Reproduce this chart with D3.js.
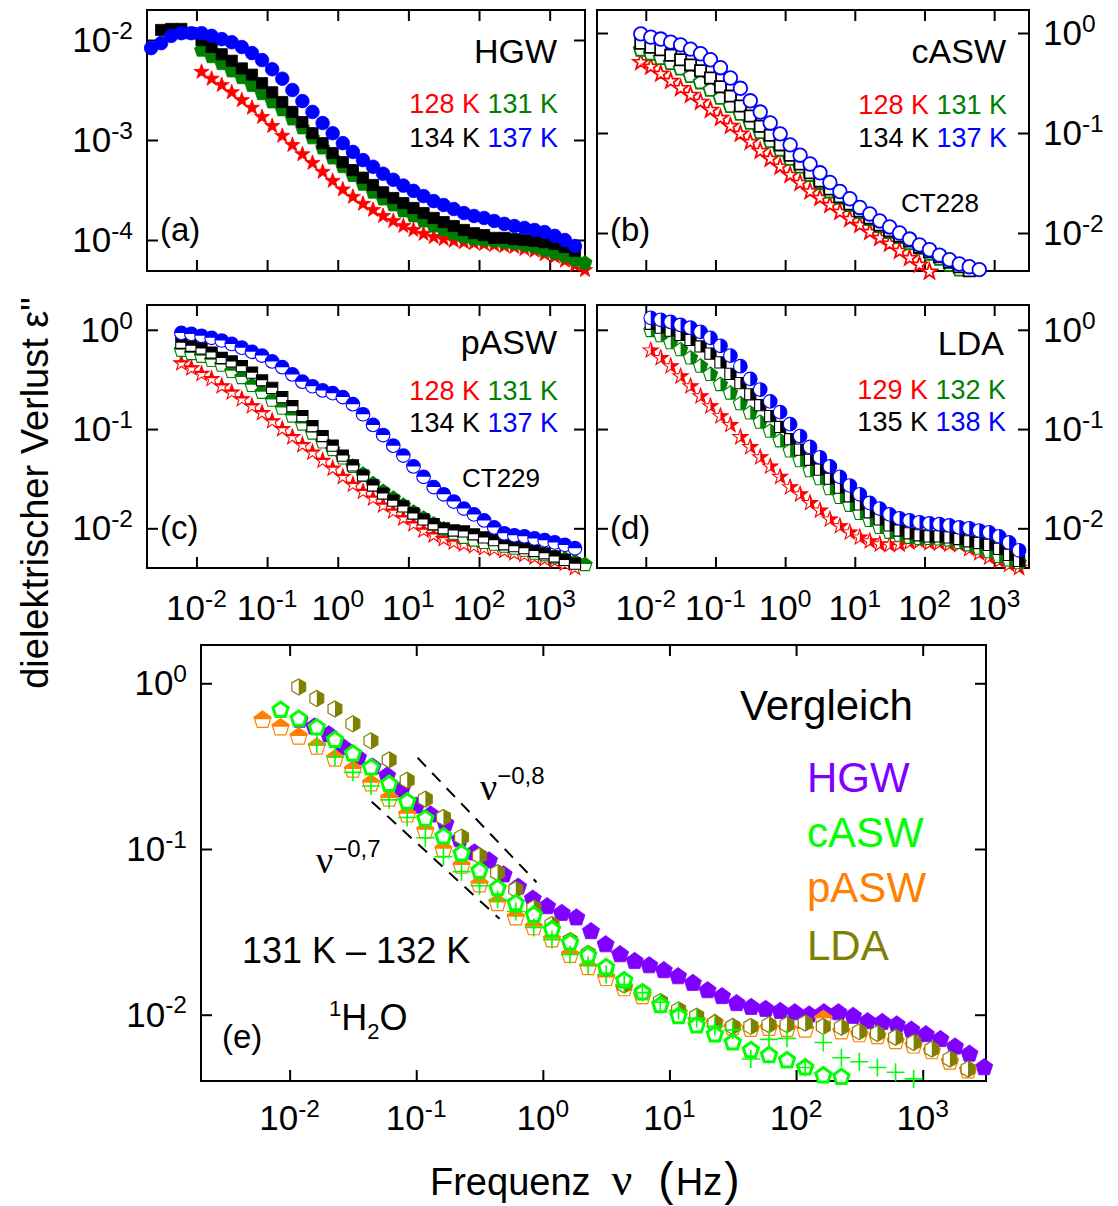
<!DOCTYPE html>
<html>
<head>
<meta charset="utf-8">
<script src="https://cdn.jsdelivr.net/npm/d3@7"></script>
<style>
  body { margin: 0; background: #fff; }
  svg { display: block; font-family: "Liberation Sans", Arial, sans-serif; }
</style>
</head>
<body>
<svg id="chart" width="1118" height="1206"></svg>
<script>
// measurement frequencies (Hz), 7 per decade
const freq = [0.00228, 0.00316, 0.00439, 0.00611, 0.00848, 0.0118, 0.0164, 0.0228, 0.0316, 0.0439,
  0.0611, 0.0848, 0.118, 0.164, 0.228, 0.316, 0.439, 0.611, 0.848, 1.18,
  1.64, 2.28, 3.16, 4.39, 6.11, 8.48, 11.8, 16.4, 22.8, 31.6,
  43.9, 61.1, 84.8, 118, 164, 228, 316, 439, 611, 848,
  1180, 1640, 2280, 3160];

// (a) HGW
const a128 = [null, null, null, null, null, 4.8e-3, 4.1e-3, 3.55e-3, 3.0e-3, 2.5e-3, 2.1e-3, 1.70e-3, 1.38e-3, 1.10e-3, 8.9e-4, 7.2e-4, 5.9e-4, 4.8e-4, 3.9e-4, 3.2e-4, 2.7e-4, 2.3e-4, 2.0e-4, 1.74e-4, 1.55e-4, 1.38e-4, 1.26e-4, 1.15e-4, 1.07e-4, 1.02e-4, 9.8e-5, 9.5e-5, 9.3e-5, 9.1e-5, 8.9e-5, 8.7e-5, 8.5e-5, 8.1e-5, 7.8e-5, 7.2e-5, 6.8e-5, 6.2e-5, 5.6e-5, 5.0e-5];
const a131 = [null, null, null, null, null, 7.9e-3, 6.8e-3, 5.8e-3, 4.9e-3, 4.2e-3, 3.5e-3, 2.9e-3, 2.4e-3, 2.0e-3, 1.62e-3, 1.32e-3, 1.05e-3, 8.3e-4, 6.6e-4, 5.4e-4, 4.4e-4, 3.6e-4, 3.0e-4, 2.57e-4, 2.24e-4, 1.95e-4, 1.74e-4, 1.55e-4, 1.38e-4, 1.26e-4, 1.15e-4, 1.07e-4, 1.02e-4, 1.0e-4, 9.8e-5, 9.5e-5, 9.3e-5, 8.9e-5, 8.5e-5, 7.9e-5, 7.4e-5, 6.9e-5, 6.3e-5, 5.9e-5];
const a134 = [null, 1.26e-2, 1.29e-2, 1.29e-2, 1.17e-2, 1.0e-2, 8.5e-3, 7.2e-3, 6.2e-3, 5.2e-3, 4.5e-3, 3.7e-3, 3.0e-3, 2.4e-3, 1.91e-3, 1.51e-3, 1.17e-3, 9.3e-4, 7.4e-4, 6.0e-4, 5.0e-4, 4.2e-4, 3.55e-4, 3.0e-4, 2.63e-4, 2.34e-4, 2.09e-4, 1.86e-4, 1.66e-4, 1.51e-4, 1.38e-4, 1.26e-4, 1.17e-4, 1.12e-4, 1.05e-4, 1.05e-4, 1.02e-4, 1.0e-4, 9.8e-5, 9.5e-5, 9.1e-5, 8.5e-5, 7.8e-5];
const a137 = [8.3e-3, 9.3e-3, 1.10e-2, 1.17e-2, 1.17e-2, 1.17e-2, 1.10e-2, 1.02e-2, 9.5e-3, 8.5e-3, 7.4e-3, 6.3e-3, 5.1e-3, 4.1e-3, 3.16e-3, 2.45e-3, 1.91e-3, 1.48e-3, 1.17e-3, 9.3e-4, 7.6e-4, 6.3e-4, 5.4e-4, 4.6e-4, 4.0e-4, 3.5e-4, 3.1e-4, 2.75e-4, 2.45e-4, 2.24e-4, 2.04e-4, 1.86e-4, 1.74e-4, 1.66e-4, 1.55e-4, 1.45e-4, 1.38e-4, 1.32e-4, 1.26e-4, 1.20e-4, 1.10e-4, 1.00e-4, 8.7e-5];

// (b) cASW, CT228
const b128 = [null, null, null, null, 0.51, 0.46, 0.39, 0.33, 0.28, 0.24, 0.204, 0.17, 0.141, 0.117, 0.098, 0.081, 0.066, 0.055, 0.046, 0.038, 0.0316, 0.026, 0.0224, 0.019, 0.0162, 0.0138, 0.012, 0.0102, 0.0089, 0.0078, 0.0066, 0.0056, 0.0048, 0.0041];
const b131 = [null, null, null, null, 0.68, 0.62, 0.56, 0.50, 0.44, 0.37, 0.32, 0.27, 0.224, 0.186, 0.155, 0.126, 0.102, 0.083, 0.068, 0.055, 0.046, 0.038, 0.0316, 0.026, 0.0224, 0.019, 0.0162, 0.0138, 0.0117, 0.0102, 0.0091, 0.0079, 0.0071, 0.0062, 0.0055, 0.0048, 0.0043];
const b134 = [null, null, null, null, 0.79, 0.72, 0.68, 0.60, 0.54, 0.48, 0.42, 0.355, 0.29, 0.234, 0.186, 0.148, 0.117, 0.095, 0.076, 0.060, 0.049, 0.040, 0.033, 0.0275, 0.023, 0.0195, 0.0166, 0.0141, 0.0120, 0.0105, 0.0093, 0.0083, 0.0072, 0.0065, 0.0058, 0.0051, 0.0046, 0.0042];
const b137 = [null, null, null, null, 0.98, 0.91, 0.87, 0.81, 0.76, 0.69, 0.62, 0.54, 0.45, 0.355, 0.28, 0.21, 0.162, 0.126, 0.098, 0.076, 0.060, 0.049, 0.040, 0.032, 0.026, 0.022, 0.018, 0.0155, 0.0132, 0.0115, 0.0100, 0.0087, 0.0076, 0.0068, 0.0060, 0.0054, 0.0049, 0.0046, 0.0043];

// (c) pASW, CT229
const c128 = [null, null, null, 0.46, 0.41, 0.36, 0.32, 0.27, 0.234, 0.20, 0.17, 0.145, 0.12, 0.100, 0.083, 0.069, 0.058, 0.048, 0.040, 0.033, 0.0275, 0.0234, 0.020, 0.017, 0.0148, 0.0126, 0.011, 0.0095, 0.0085, 0.0078, 0.0072, 0.0069, 0.0066, 0.0063, 0.0062, 0.0059, 0.0056, 0.0054, 0.0051, 0.0049, 0.0047, 0.0044, 0.0040];
const c131 = [null, null, null, 0.62, 0.575, 0.54, 0.49, 0.44, 0.38, 0.33, 0.275, 0.234, 0.195, 0.162, 0.135, 0.112, 0.091, 0.074, 0.062, 0.051, 0.042, 0.035, 0.028, 0.0234, 0.020, 0.017, 0.0145, 0.0126, 0.011, 0.0098, 0.0089, 0.0081, 0.0076, 0.0072, 0.0069, 0.0066, 0.0063, 0.006, 0.0056, 0.0054, 0.0051, 0.0049, 0.0046, 0.0043];
const c134 = [null, null, null, 0.74, 0.69, 0.65, 0.59, 0.52, 0.48, 0.43, 0.37, 0.31, 0.26, 0.21, 0.17, 0.135, 0.107, 0.085, 0.068, 0.054, 0.043, 0.034, 0.027, 0.0224, 0.019, 0.0166, 0.0141, 0.0123, 0.011, 0.0100, 0.0095, 0.0093, 0.0087, 0.0081, 0.0076, 0.0069, 0.0066, 0.0063, 0.0059, 0.0056, 0.0052, 0.0048, 0.0044];
const c137 = [null, null, null, 0.93, 0.91, 0.87, 0.83, 0.78, 0.72, 0.66, 0.60, 0.55, 0.48, 0.42, 0.355, 0.30, 0.27, 0.245, 0.23, 0.21, 0.178, 0.141, 0.110, 0.087, 0.068, 0.054, 0.042, 0.033, 0.026, 0.022, 0.0186, 0.0158, 0.0138, 0.012, 0.0102, 0.0089, 0.0085, 0.0083, 0.0079, 0.0076, 0.0072, 0.0068, 0.0063];

// (d) LDA
const d129 = [null, null, null, null, null, 0.62, 0.52, 0.43, 0.34, 0.27, 0.214, 0.17, 0.135, 0.11, 0.083, 0.066, 0.052, 0.042, 0.033, 0.026, 0.022, 0.018, 0.0151, 0.0123, 0.0105, 0.0091, 0.0081, 0.0074, 0.0069, 0.0068, 0.0069, 0.0072, 0.0074, 0.0071, 0.0071, 0.0069, 0.0068, 0.0062, 0.0056, 0.0051, 0.0047, 0.0043, 0.0040];
const d132 = [null, null, null, null, null, 0.98, 0.87, 0.74, 0.63, 0.52, 0.43, 0.355, 0.28, 0.23, 0.18, 0.145, 0.117, 0.095, 0.076, 0.060, 0.048, 0.038, 0.0316, 0.025, 0.0204, 0.017, 0.0141, 0.012, 0.0102, 0.0091, 0.0085, 0.0081, 0.0079, 0.0079, 0.0078, 0.0076, 0.0072, 0.0068, 0.0063, 0.0058, 0.0052, 0.0048, 0.0045];
const d135 = [null, null, null, null, null, 1.15, 1.05, 0.98, 0.89, 0.79, 0.68, 0.575, 0.47, 0.36, 0.29, 0.224, 0.174, 0.135, 0.105, 0.079, 0.062, 0.049, 0.039, 0.0316, 0.0257, 0.021, 0.0174, 0.0145, 0.0123, 0.0107, 0.0095, 0.0089, 0.0085, 0.0083, 0.0083, 0.0081, 0.0078, 0.0074, 0.0071, 0.0068, 0.0062, 0.0054, 0.0047];
const d138 = [null, null, null, null, null, 1.32, 1.26, 1.20, 1.12, 1.05, 0.955, 0.83, 0.69, 0.55, 0.43, 0.32, 0.25, 0.19, 0.148, 0.112, 0.085, 0.066, 0.052, 0.042, 0.033, 0.027, 0.022, 0.018, 0.0158, 0.0138, 0.0126, 0.012, 0.0115, 0.0112, 0.011, 0.0107, 0.0102, 0.0100, 0.0095, 0.0091, 0.0083, 0.0072, 0.006];

// (e) comparison at 131 K - 132 K
const eHgwFreq = [0.0120, 0.0157, 0.0204, 0.0266, 0.0347, 0.0452, 0.0589, 0.0767, 0.100, 0.130,
  0.170, 0.221, 0.288, 0.376, 0.490, 0.638, 0.832, 1.08, 1.41, 1.84,
  2.40, 3.13, 4.07, 5.31, 6.92, 9.02, 11.7, 15.3, 20.0, 26.0,
  33.9, 44.2, 57.5, 75.0, 97.7, 127, 166, 216, 282, 367,
  479, 624, 813, 1060, 1380, 1800, 2340, 3060];
const eHGW = [0.60, 0.546, 0.49, 0.41, 0.355, 0.313, 0.277, 0.228, 0.182, 0.161,
  0.142, 0.114, 0.095, 0.085, 0.070, 0.059, 0.050, 0.045, 0.041, 0.0385,
  0.0318, 0.0265, 0.0231, 0.021, 0.0198, 0.0185, 0.017, 0.0155, 0.014, 0.0129,
  0.0117, 0.0111, 0.0108, 0.0105, 0.0103, 0.0100, 0.0103, 0.0103, 0.0098, 0.0091,
  0.009, 0.0087, 0.0081, 0.0076, 0.0071, 0.0064, 0.0058, 0.0048];
const eCASW = [null, null, null, null, 0.69, 0.61, 0.54, 0.455, 0.376, 0.31, 0.247, 0.193, 0.152, 0.119, 0.094, 0.074, 0.058, 0.047, 0.040, 0.0327, 0.0273, 0.0228, 0.0193, 0.0161, 0.0136, 0.0114, 0.0098, 0.0086, 0.0076, 0.0068, 0.0061, 0.0057, 0.0053, 0.0048, 0.0043, 0.0042];
const eCASW2 = [null, null, null, null, null, null, 0.43, 0.36, 0.29, 0.24, 0.198, 0.155, 0.117, 0.090, 0.073, 0.060, 0.0495, 0.042, 0.0336, 0.0284, 0.0231, 0.0198, 0.0175, 0.0152, 0.0136, 0.0119, 0.0106, 0.0095, 0.0085, 0.0081, 0.0054, 0.0071, 0.0072, 0.0048, 0.0068, 0.0055, 0.0052, 0.0048, 0.0045, 0.0041];
const ePASW = [null, null, null, 0.60, 0.54, 0.475, 0.413, 0.35, 0.30, 0.248, 0.201, 0.161, 0.129, 0.099, 0.079, 0.061, 0.047, 0.0385, 0.0336, 0.0284, 0.0229, 0.0193, 0.0166, 0.0144, 0.0129, 0.0115, 0.0102, 0.0092, 0.0089, 0.0084, 0.0082, 0.0083, 0.0082, 0.0081, 0.0094, 0.0079, 0.0076, 0.0074, 0.0069, 0.0065, 0.006, 0.0052, 0.0046];
const eLDA = [null, null, null, null, null, 0.95, 0.81, 0.70, 0.57, 0.45, 0.345, 0.26, 0.20, 0.155, 0.118, 0.091, 0.072, 0.057, 0.044, 0.035, 0.028, 0.0234, 0.019, 0.0151, 0.0137, 0.012, 0.0107, 0.0098, 0.0089, 0.0085, 0.0085, 0.0087, 0.0087, 0.0089, 0.0085, 0.0084, 0.0079, 0.0077, 0.0073, 0.0068, 0.0062, 0.0054, 0.0047];

// power law guides nu^-0.8 and nu^-0.7 (start, end)
const guide08 = [[0.1026, 0.355], [0.891, 0.063]];
const guide07 = [[0.0445, 0.193], [0.455, 0.0379]];

const xTicks = [1e-2, 1e-1, 1, 10, 100, 1000];
const xDomain = [10 ** -2.7, 10 ** 3.5];

const RED = "#ff0000", GREEN = "#008000", BLACK = "#000000", BLUE = "#0000ff";
const VIOLET = "#7f00ff", LIME = "#00ff00", ORANGE = "#ff8000", OLIVE = "#808000";

const svg = d3.select("#chart");
const defs = svg.append("defs");
defs.append("clipPath").attr("id", "topHalf").attr("clipPathUnits", "objectBoundingBox")
  .append("rect").attr("x", 0).attr("y", 0).attr("width", 1).attr("height", 0.5);
defs.append("clipPath").attr("id", "rightHalf").attr("clipPathUnits", "objectBoundingBox")
  .append("rect").attr("x", 0.5).attr("y", 0).attr("width", 0.5).attr("height", 1);

// marker shapes centred on 0,0
function poly(n, r, rot) {
  const pts = d3.range(n).map(i => {
    const a = rot + i * 2 * Math.PI / n;
    return [r * Math.cos(a), r * Math.sin(a)];
  });
  return "M" + pts.map(p => p[0].toFixed(2) + "," + p[1].toFixed(2)).join("L") + "Z";
}
function shapePath(shape, r) {
  if (shape === "circle") return `M${r},0A${r},${r} 0 1,1 ${-r},0A${r},${r} 0 1,1 ${r},0Z`;
  if (shape === "square") return `M${-r},${-r}H${r}V${r}H${-r}Z`;
  if (shape === "pentagon") return poly(5, r, -Math.PI / 2);
  if (shape === "hexagon") return poly(6, r, -Math.PI / 2);
  if (shape === "star") {
    const pts = d3.range(10).map(i => {
      const a = -Math.PI / 2 + i * Math.PI / 5, rr = i % 2 ? r * 0.4 : r;
      return [rr * Math.cos(a), rr * Math.sin(a)];
    });
    return "M" + pts.map(p => p[0].toFixed(2) + "," + p[1].toFixed(2)).join("L") + "Z";
  }
  if (shape === "cross") return `M${-r},0H${r}M0,${-r}V${r}`;
}

function power(g, x, y, e, size, anchor) {
  const t = g.append("text").attr("x", x).attr("y", y)
    .attr("text-anchor", anchor).attr("font-size", size);
  t.append("tspan").text("10");
  t.append("tspan").attr("dy", -0.38 * size).attr("font-size", size * 0.7).text(String(e));
}

function panel(p) {
  const x = d3.scaleLog().domain(xDomain).range([p.x0, p.x1]);
  const y = d3.scaleLog().domain(p.yDomain).range([p.y1, p.y0]);
  const g = svg.append("g");
  const yTicks = p.yTicks;
  g.append("g").attr("transform", `translate(0,${p.y1})`)
    .call(d3.axisBottom(x).tickValues(xTicks).tickSize(-11).tickFormat(""));
  g.append("g").attr("transform", `translate(0,${p.y0})`)
    .call(d3.axisTop(x).tickValues(xTicks).tickSize(-11).tickFormat(""));
  g.append("g").attr("transform", `translate(${p.x0},0)`)
    .call(d3.axisLeft(y).tickValues(yTicks).tickSize(-11).tickFormat(""));
  g.append("g").attr("transform", `translate(${p.x1},0)`)
    .call(d3.axisRight(y).tickValues(yTicks).tickSize(-11).tickFormat(""));
  g.selectAll(".domain").remove();
  g.selectAll(".tick line").attr("stroke", "#000").attr("stroke-width", 2);
  g.append("rect")
    .attr("x", p.x0).attr("y", p.y0)
    .attr("width", p.x1 - p.x0).attr("height", p.y1 - p.y0)
    .attr("fill", "none").attr("stroke", "#000").attr("stroke-width", 2);

  // decade labels
  yTicks.forEach(v => {
    const e = Math.round(Math.log10(v));
    if (p.labels === "left") power(svg, p.x0 - 14, y(v) + 12, e, 35, "end");
    if (p.labels === "right") power(svg, p.x1 + 14, y(v) + 12, e, 35, "start");
  });
  if (p.xLabelY) {
    xTicks.forEach(v => power(svg, x(v), p.xLabelY, Math.round(Math.log10(v)), 35, "middle"));
  }
  return { g, x, y };
}

function series(pn, fr, vals, st) {
  const pts = fr.map((f, i) => [f, vals[i]]).filter(d => d[1] != null);
  const d = shapePath(st.shape, st.r);
  const m = pn.g.append("g").selectAll("g").data(pts).join("g")
    .attr("transform", q => `translate(${pn.x(q[0]).toFixed(2)},${pn.y(q[1]).toFixed(2)})`);
  if (st.fill === "solid") {
    m.append("path").attr("d", d).attr("fill", st.color).attr("stroke", st.color).attr("stroke-width", 0.8);
  } else if (st.fill === "open") {
    m.append("path").attr("d", d).attr("fill", "#fff").attr("stroke", st.color).attr("stroke-width", st.sw);
  } else if (st.fill === "line") {
    m.append("path").attr("d", d).attr("fill", "none").attr("stroke", st.color).attr("stroke-width", st.sw);
  } else {
    m.append("path").attr("d", d).attr("fill", "#fff");
    m.append("path").attr("d", d).attr("fill", st.color)
      .attr("clip-path", st.fill === "top" ? "url(#topHalf)" : "url(#rightHalf)");
    m.append("path").attr("d", d).attr("fill", "none").attr("stroke", st.color).attr("stroke-width", st.sw);
  }
}

function label(x, y, parts, size, anchor) {
  const t = svg.append("text").attr("x", x).attr("y", y)
    .attr("font-size", size).attr("text-anchor", anchor || "start");
  parts.forEach(p => {
    const s = t.append("tspan").text(p[0]).attr("fill", p[1] || "#000");
    if (p[2]) s.attr("dy", p[2]);
    if (p[3]) s.attr("font-size", p[3]);
    if (p[4]) s.attr("font-family", p[4]);
    if (p[5]) s.attr("dx", p[5]);
  });
  return t;
}

// ---- four temperature panels ----
const pa = panel({ x0: 147, x1: 585, y0: 10, y1: 271, yDomain: [10 ** -4.31, 10 ** -1.70], yTicks: [1e-2, 1e-3, 1e-4], labels: "left" });
const pb = panel({ x0: 597, x1: 1029, y0: 10, y1: 271, yDomain: [10 ** -2.38, 10 ** 0.23], yTicks: [1, 0.1, 0.01], labels: "right" });
const pc = panel({ x0: 147, x1: 585, y0: 305, y1: 568, yDomain: [10 ** -2.40, 10 ** 0.25], yTicks: [1, 0.1, 0.01], labels: "left", xLabelY: 620 });
const pd = panel({ x0: 597, x1: 1029, y0: 305, y1: 568, yDomain: [10 ** -2.40, 10 ** 0.25], yTicks: [1, 0.1, 0.01], labels: "right", xLabelY: 620 });

const temps = [
  { shape: "star", r: 8, color: RED },
  { shape: "pentagon", r: 7.4, color: GREEN },
  { shape: "square", r: 5.6, color: BLACK },
  { shape: "circle", r: 6.8, color: BLUE }
];
const sets = [
  [pa, [a128, a131, a134, a137], "solid", 0.8],
  [pb, [b128, b131, b134, b137], "open", 1.8],
  [pc, [c128, c131, c134, c137], "top", 1.1],
  [pd, [d129, d132, d135, d138], "right", 1.1]
];
// lowest temperature first, highest on top
sets.forEach(([pn, data, fill, sw]) => {
  data.forEach((vals, i) => series(pn, freq, vals, Object.assign({ fill, sw }, temps[i])));
});

// panel texts
label(557, 63, [["HGW"]], 34, "end");
label(1006, 63, [["cASW"]], 34, "end");
label(557, 354, [["pASW"]], 34, "end");
label(1004, 355, [["LDA"]], 34, "end");

label(558, 113, [["128 K", RED], [" "], ["131 K", GREEN]], 27, "end");
label(558, 147, [["134 K", BLACK], [" "], ["137 K", BLUE]], 27, "end");
label(1007, 114, [["128 K", RED], [" "], ["131 K", GREEN]], 27, "end");
label(1007, 147, [["134 K", BLACK], [" "], ["137 K", BLUE]], 27, "end");
label(558, 400, [["128 K", RED], [" "], ["131 K", GREEN]], 27, "end");
label(558, 432, [["134 K", BLACK], [" "], ["137 K", BLUE]], 27, "end");
label(1006, 399, [["129 K", RED], [" "], ["132 K", GREEN]], 27, "end");
label(1006, 431, [["135 K", BLACK], [" "], ["138 K", BLUE]], 27, "end");

label(901, 212, [["CT228"]], 26);
label(462, 487, [["CT229"]], 26);

label(160, 241, [["(a)"]], 33);
label(610, 241, [["(b)"]], 33);
label(160, 539, [["(c)"]], 33);
label(610, 539, [["(d)"]], 33);

// ---- comparison panel ----
const pe = panel({ x0: 201, x1: 986, y0: 645, y1: 1081, yDomain: [10 ** -2.40, 10 ** 0.231], yTicks: [1, 0.1, 0.01], labels: "left", xLabelY: 1130 });

[guide08, guide07].forEach(seg => {
  pe.g.append("line")
    .attr("x1", pe.x(seg[0][0])).attr("y1", pe.y(seg[0][1]))
    .attr("x2", pe.x(seg[1][0])).attr("y2", pe.y(seg[1][1]))
    .attr("stroke", "#000").attr("stroke-width", 2).attr("stroke-dasharray", "12,9");
});

series(pe, eHgwFreq, eHGW, { shape: "pentagon", r: 9, color: VIOLET, fill: "solid" });
series(pe, freq, ePASW, { shape: "pentagon", r: 9, color: ORANGE, fill: "top", sw: 1.2 });
series(pe, freq, eLDA, { shape: "hexagon", r: 8, color: OLIVE, fill: "right", sw: 1.2 });
series(pe, freq, eCASW, { shape: "pentagon", r: 8, color: LIME, fill: "open", sw: 3 });
series(pe, freq, eCASW2, { shape: "cross", r: 9, color: LIME, fill: "line", sw: 1.6 });

label(740, 720, [["Vergleich"]], 42);
label(807, 792, [["HGW", VIOLET]], 42);
label(807, 847, [["cASW", LIME]], 42);
label(807, 902, [["pASW", ORANGE]], 42);
label(807, 960, [["LDA", OLIVE]], 42);

label(480, 800, [["ν", null, null, null, "Liberation Serif"], ["−0,8", null, -16, 24]], 38);
label(316, 873, [["ν", null, null, null, "Liberation Serif"], ["−0,7", null, -16, 24]], 38);

label(242, 963, [["131 K – 132 K"]], 36);
label(329, 1030, [["1", null, -14, 22], ["H", null, 14, 36], ["2", null, 9, 22], ["O", null, -9, 36]], 36);
label(222, 1048, [["(e)"]], 33);

// axis titles
label(430, 1195, [["Frequenz"], ["ν", null, null, 46, "Liberation Serif", 21],
  ["(", null, null, 46, null, 26], ["Hz", null, null, 38, null, 2], [")", null, null, 46, null, 2]], 38);
svg.append("text")
  .attr("transform", "translate(48,493) rotate(-90)")
  .attr("text-anchor", "middle")
  .attr("font-size", 38)
  .text("dielektrischer Verlust ε\"");
</script>
</body>
</html>
